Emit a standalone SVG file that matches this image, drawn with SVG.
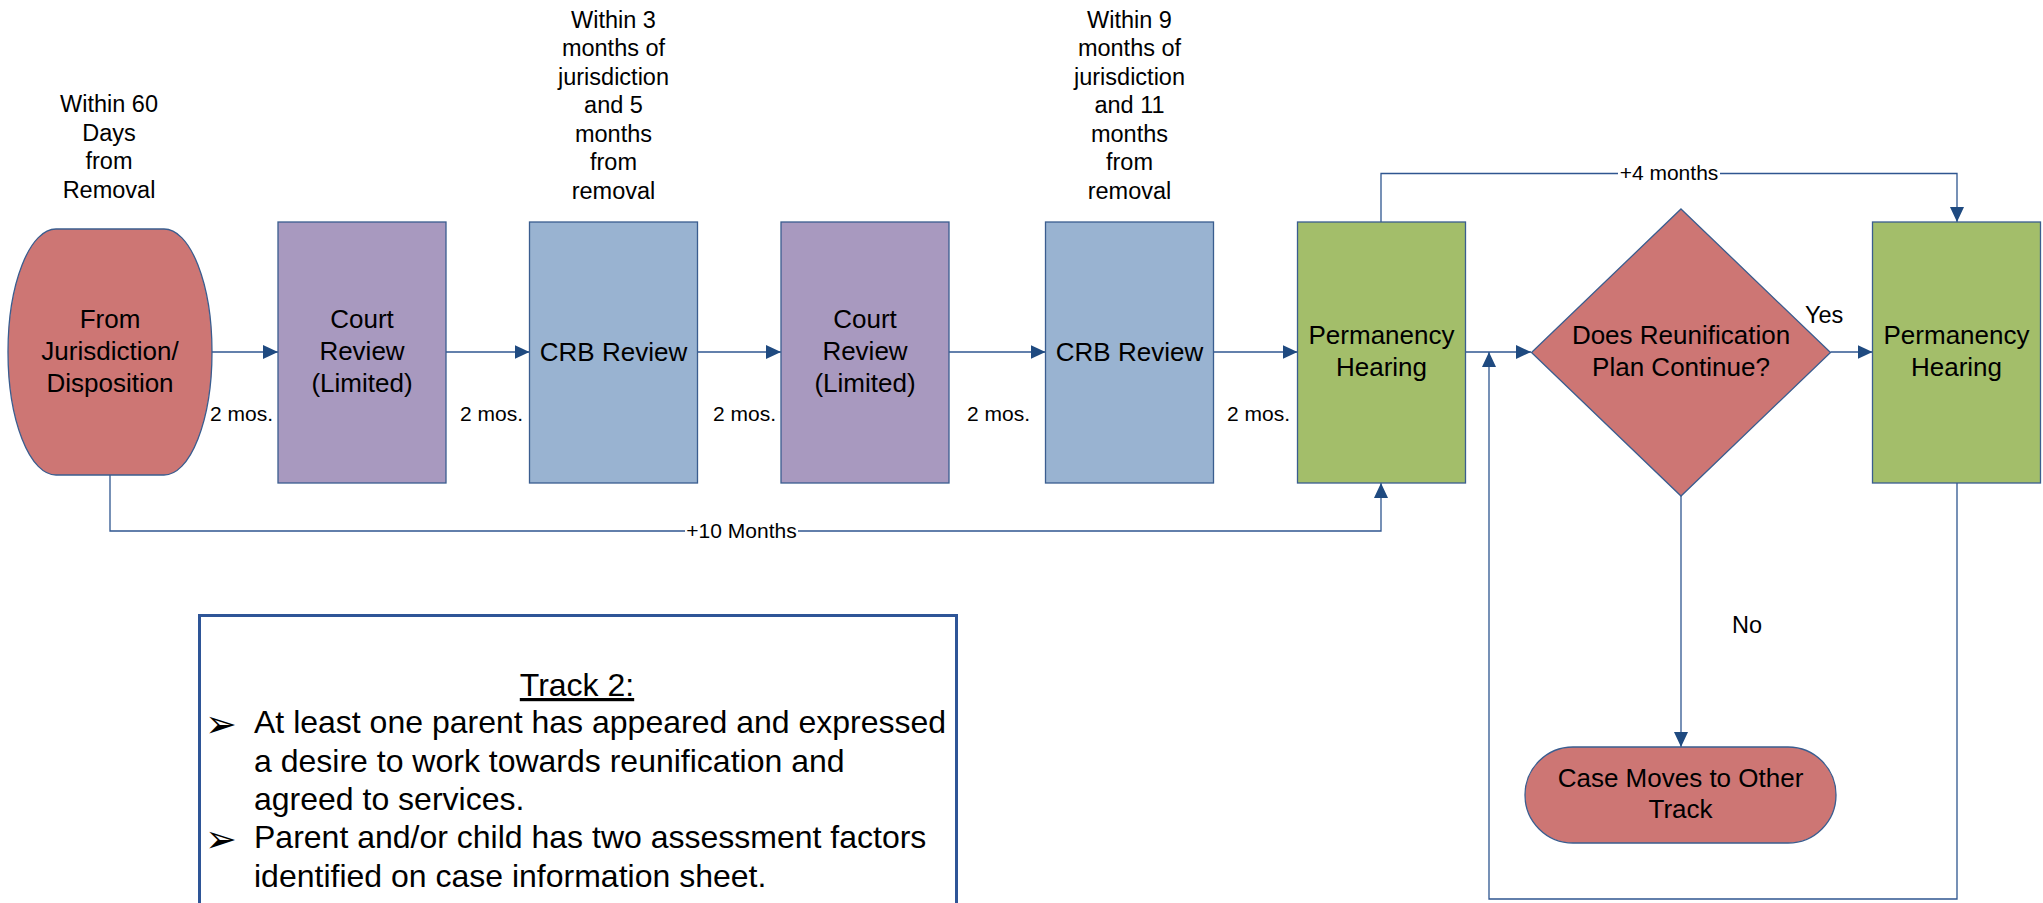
<svg xmlns="http://www.w3.org/2000/svg" width="2043" height="903" viewBox="0 0 2043 903">
<style>
.node{stroke:#3A5D8F;stroke-width:1.3}
.red{fill:#CD7674}
.purple{fill:#A899BF}
.blue{fill:#99B3D1}
.green{fill:#A3BE6A}
.t{font-family:"Liberation Sans",Arial,sans-serif;fill:#000}
.big{font-size:26px;text-anchor:middle}
.ann{font-size:23.5px;text-anchor:middle}
.sm{font-size:21px}
.yn{font-size:23.5px}
.conn{fill:none;stroke:#2F5690;stroke-width:1.3}
.box{font-size:32px}
.bul{font-family:"DejaVu Sans",sans-serif;font-size:38px;fill:#000}
</style>
<defs>
<marker id="arr" markerUnits="userSpaceOnUse" markerWidth="15" markerHeight="14" refX="15" refY="7" orient="auto">
<path d="M0,0 L15,7 L0,14 z" fill="#1F4A80"/>
</marker>
</defs>
<rect width="2043" height="903" fill="#fff"/>

<g id="connectors">
<path class="conn" d="M212,352 H278" marker-end="url(#arr)"/>
<path class="conn" d="M446,352 H529.5" marker-end="url(#arr)"/>
<path class="conn" d="M697.5,352 H781" marker-end="url(#arr)"/>
<path class="conn" d="M949,352 H1045.5" marker-end="url(#arr)"/>
<path class="conn" d="M1213.5,352 H1297.5" marker-end="url(#arr)"/>
<path class="conn" d="M1465.5,352 H1531" marker-end="url(#arr)"/>
<path class="conn" d="M1830.5,352 H1872.5" marker-end="url(#arr)"/>
<path class="conn" d="M1381,222 V173.5 H1957 V222" marker-end="url(#arr)"/>
<path class="conn" d="M110,475 V531 H1381 V483" marker-end="url(#arr)"/>
<path class="conn" d="M1681,496 V747" marker-end="url(#arr)"/>
<path class="conn" d="M1957,483 V899 H1489 V352" marker-end="url(#arr)"/>
<rect x="1618" y="163" width="102" height="20" fill="#fff"/>
<text class="t sm" x="1669" y="180" text-anchor="middle">+4 months</text>
<rect x="685" y="521" width="113" height="20" fill="#fff"/>
<text class="t sm" x="741.5" y="538" text-anchor="middle">+10 Months</text>
<text class="t sm" x="210" y="421">2 mos.</text>
<text class="t sm" x="460" y="421">2 mos.</text>
<text class="t sm" x="713" y="421">2 mos.</text>
<text class="t sm" x="967" y="421">2 mos.</text>
<text class="t sm" x="1227" y="421">2 mos.</text>
<text class="t yn" x="1805" y="323">Yes</text>
<text class="t yn" x="1732" y="633">No</text>
</g>

<g id="ann1">
<text class="t ann" x="109" y="112">Within 60</text>
<text class="t ann" x="109" y="140.5">Days</text>
<text class="t ann" x="109" y="169">from</text>
<text class="t ann" x="109" y="197.5">Removal</text>
</g>
<g id="ann2">
<text class="t ann" x="613.5" y="27.5">Within 3</text>
<text class="t ann" x="613.5" y="56">months of</text>
<text class="t ann" x="613.5" y="84.5">jurisdiction</text>
<text class="t ann" x="613.5" y="113">and 5</text>
<text class="t ann" x="613.5" y="141.5">months</text>
<text class="t ann" x="613.5" y="170">from</text>
<text class="t ann" x="613.5" y="198.5">removal</text>
</g>
<g id="ann3">
<text class="t ann" x="1129.5" y="27.5">Within 9</text>
<text class="t ann" x="1129.5" y="56">months of</text>
<text class="t ann" x="1129.5" y="84.5">jurisdiction</text>
<text class="t ann" x="1129.5" y="113">and 11</text>
<text class="t ann" x="1129.5" y="141.5">months</text>
<text class="t ann" x="1129.5" y="170">from</text>
<text class="t ann" x="1129.5" y="198.5">removal</text>
</g>

<g id="start">
<rect class="node red" x="8" y="229" width="204" height="246" rx="48" ry="123"/>
<text class="t big" x="110" y="328">From</text>
<text class="t big" x="110" y="360">Jurisdiction/</text>
<text class="t big" x="110" y="392">Disposition</text>
</g>
<g id="court1">
<rect class="node purple" x="278" y="222" width="168" height="261"/>
<text class="t big" x="362" y="328">Court</text>
<text class="t big" x="362" y="360">Review</text>
<text class="t big" x="362" y="392">(Limited)</text>
</g>
<g id="crb1">
<rect class="node blue" x="529.5" y="222" width="168" height="261"/>
<text class="t big" x="613.5" y="361">CRB Review</text>
</g>
<g id="court2">
<rect class="node purple" x="781" y="222" width="168" height="261"/>
<text class="t big" x="865" y="328">Court</text>
<text class="t big" x="865" y="360">Review</text>
<text class="t big" x="865" y="392">(Limited)</text>
</g>
<g id="crb2">
<rect class="node blue" x="1045.5" y="222" width="168" height="261"/>
<text class="t big" x="1129.5" y="361">CRB Review</text>
</g>
<g id="perm1">
<rect class="node green" x="1297.5" y="222" width="168" height="261"/>
<text class="t big" x="1381.5" y="344">Permanency</text>
<text class="t big" x="1381.5" y="376">Hearing</text>
</g>
<g id="decision">
<polygon class="node red" points="1681,209 1830.5,352.5 1681,496 1531.5,352.5"/>
<text class="t big" x="1681" y="344">Does Reunification</text>
<text class="t big" x="1681" y="376">Plan Continue?</text>
</g>
<g id="perm2">
<rect class="node green" x="1872.5" y="222" width="168" height="261"/>
<text class="t big" x="1956.5" y="344">Permanency</text>
<text class="t big" x="1956.5" y="376">Hearing</text>
</g>
<g id="othertrack">
<rect class="node red" x="1525" y="747" width="311" height="96" rx="48" ry="48"/>
<text class="t big" x="1680.5" y="787">Case Moves to Other</text>
<text class="t big" x="1680.5" y="818">Track</text>
</g>

<g id="track2">
<rect x="199.5" y="615.5" width="757" height="300" fill="#fff" stroke="#2E5597" stroke-width="3"/>
<text class="t box" x="577" y="696" text-anchor="middle" text-decoration="underline">Track 2:</text>
<text class="bul" x="205" y="737">➢</text>
<text class="t box" x="254" y="733">At least one parent has appeared and expressed</text>
<text class="t box" x="254" y="771.5">a desire to work towards reunification and</text>
<text class="t box" x="254" y="810">agreed to services.</text>
<text class="bul" x="205" y="852">➢</text>
<text class="t box" x="254" y="848">Parent and/or child has two assessment factors</text>
<text class="t box" x="254" y="886.5">identified on case information sheet.</text>
</g>
</svg>
